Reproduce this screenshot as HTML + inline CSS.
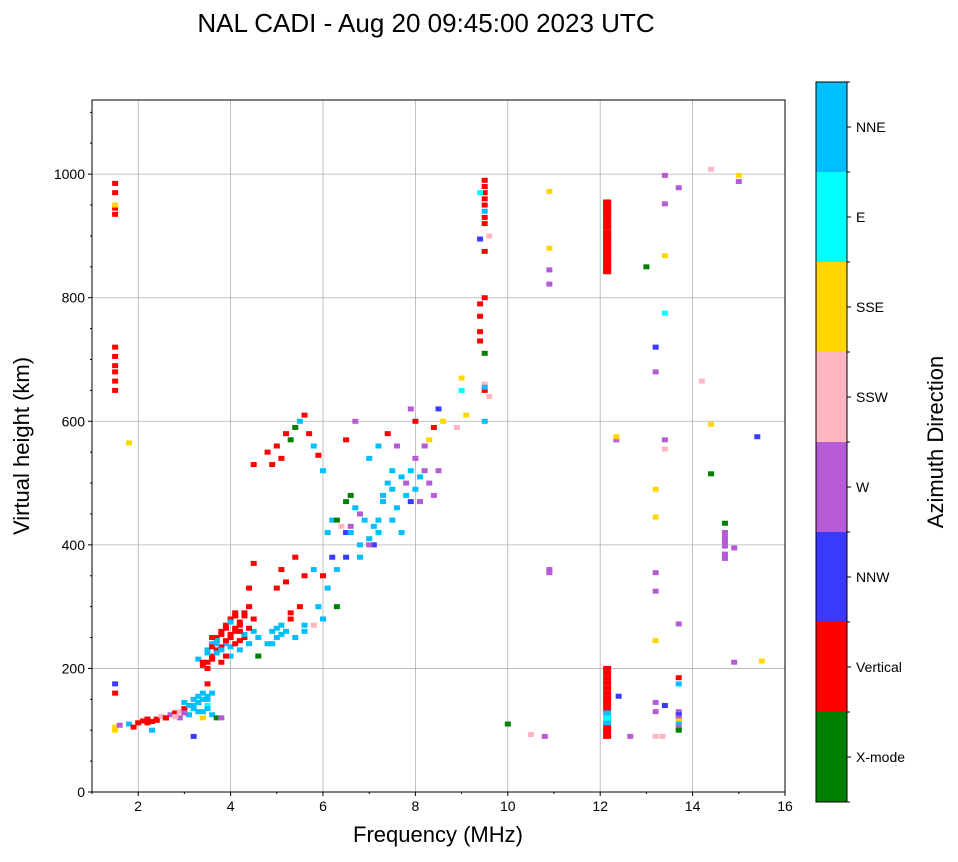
<!DOCTYPE html>
<html><head><meta charset="utf-8">
<style>
body{margin:0;background:#fff;font-family:"Liberation Sans",sans-serif;}
svg text{font-family:"Liberation Sans",sans-serif;}
</style></head>
<body>
<svg id="chart" width="958" height="857" xmlns="http://www.w3.org/2000/svg">
<rect width="958" height="857" fill="#fff"/>
<text x="426" y="32" font-size="26" text-anchor="middle">NAL CADI - Aug 20 09:45:00 2023 UTC</text>
<g id="grid"></g>
<g id="marks"></g>
<g id="axes"></g>
<g id="cbar"></g>
</svg>
<script>
const xTicks=[2,4,6,8,10,12,14,16];
const yTicks=[0,200,400,600,800,1000];
const dirNames=["X-mode","Vertical","NNW","W","SSW","SSE","E","NNE"];
const dirColors=["#008000","#ff0000","#3a3aff","#b75ad5","#ffb6c1","#ffd700","#00ffff","#00bfff"];
// 0 X,1 V,2 NNW,3 W,4 SSW,5 SSE,6 E,7 NNE
const freqs=[1.5,1.5,1.6,1.8,1.9,2.0,2.1,2.2,2.3,2.3,2.4,2.5,2.6,2.7,2.8,2.9,2.9,3.0,3.0,3.1,3.2,3.3,3.4,3.5,3.3,3.5,3.4,3.6,3.7,3.8,3.2,3.5,
3.3,3.4,3.5,3.5,3.6,3.6,3.7,3.7,3.8,3.8,3.9,3.9,4.0,4.0,4.0,4.1,4.1,4.2,4.2,4.3,4.3,4.4,4.4,4.5,4.5,4.6,4.6,4.4,4.5,4.8,4.9,5.0,5.1,5.2,5.4,5.6,6.0,5.8,5.3,5.5,5.0,5.1,5.2,5.4,5.6,5.8,6.0,
4.8,4.9,5.0,5.1,5.2,5.3,5.4,5.5,5.6,5.7,5.8,5.9,6.0,4.5,
6.1,6.2,6.3,6.4,6.5,6.6,6.5,6.6,6.7,6.8,6.9,7.0,7.1,7.2,7.3,7.4,7.5,7.6,7.7,7.8,7.9,7.9,8.0,8.0,8.1,8.2,8.3,8.4,8.5,8.2,8.3,8.4,8.5,8.0,7.9,8.6,6.5,6.8,7.0,7.2,7.5,7.0,7.2,7.4,7.6,6.5,6.7,6.2,6.3,
1.5,1.5,1.5,1.5,1.5,1.5,1.5,1.5,1.5,1.5,1.5,1.5,1.5,1.8,
9.5,9.5,9.5,9.5,9.5,9.5,9.5,9.5,9.5,9.4,9.4,9.4,9.4,9.5,9.5,9.5,9.5,9.4,9.6,9.6,9.5,9.0,9.0,9.1,8.9,9.4,9.5,
10.9,10.9,10.9,10.9,10.9,10.9,10.5,10.8,10.0,
12.15,12.15,12.15,12.15,12.15,12.15,12.15,12.15,12.15,12.15,12.15,12.15,12.15,12.15,12.15,12.15,
12.15,12.15,12.15,12.15,12.15,12.15,12.15,12.15,12.15,12.15,12.15,12.15,12.15,12.15,12.15,12.4,12.35,12.35,12.65,13.0,
13.2,13.2,13.2,13.2,13.2,13.2,13.2,13.2,13.2,13.2,13.4,13.4,13.4,13.4,13.4,13.4,13.4,13.35,
13.7,13.7,13.7,13.7,13.7,13.7,13.7,13.7,13.7,13.7,13.7,14.2,14.4,14.4,14.4,
14.7,14.7,14.7,14.7,14.7,14.7,14.7,14.9,14.9,15.0,15.0,15.4,15.5,
3.4,3.5,3.6,3.7,3.8,3.9,4.0,4.1,4.2,4.3,3.5,3.6,3.7,3.8,3.9,4.0,4.1,4.2,4.3,4.4,3.6,3.7,3.8,3.9,4.0,4.1,4.2,3.1,3.2,3.3,3.4,3.5,3.6,3.2,3.3,3.4,3.5,2.2,2.4,2.6,2.8,3.0,
12.15,12.15,12.15,12.15,12.15,12.15,12.15,12.15,12.15,12.15,12.15,12.15,12.15,12.15,12.15,
4.9,5.0,5.1,5.3,5.6,5.9,6.1,6.3,6.6,6.8,7.1,7.3,7.5,7.7,7.8,8.1,8.2];
const heights=[100,105,108,110,105,112,115,118,114,100,118,122,120,125,128,130,120,135,145,140,150,155,160,150,130,140,120,125,120,120,90,175,
215,210,200,230,220,240,230,250,210,260,240,270,220,250,280,260,290,230,270,250,290,240,300,260,280,250,220,330,370,240,260,250,270,260,250,260,280,270,280,300,330,360,340,380,350,360,350,
550,530,560,540,580,570,590,600,610,580,560,545,520,530,
420,440,440,430,420,430,470,480,460,450,440,410,400,420,480,500,520,460,420,500,470,520,490,540,510,520,500,480,520,560,570,590,620,600,620,600,380,380,400,440,440,540,560,580,560,570,600,380,360,
175,160,650,665,680,690,705,720,935,945,950,970,985,565,
990,980,970,960,950,940,920,875,800,790,770,745,730,710,660,650,600,895,900,640,655,670,650,610,590,970,930,
972,880,845,822,360,355,93,90,110,
845,855,865,875,885,895,905,915,925,935,945,955,870,890,860,900,
90,98,105,112,120,128,136,144,152,160,168,176,184,192,200,155,570,575,90,850,
680,720,490,445,355,325,245,145,130,90,952,998,868,775,570,555,140,90,
185,175,130,125,120,115,110,105,100,272,978,665,1008,595,515,
435,420,412,405,398,385,378,210,395,998,988,575,212,
205,210,215,225,235,245,255,265,275,285,225,235,245,255,265,275,285,245,255,265,250,240,230,220,235,240,260,125,135,145,150,155,160,140,145,130,135,112,116,120,122,128,
850,858,866,874,882,890,898,906,914,922,930,938,946,954,842,
240,265,255,290,270,300,330,300,420,400,430,470,490,510,480,470,560];
const dirs=[5,5,3,7,1,1,1,1,1,7,1,4,1,3,1,4,3,1,7,7,7,7,7,7,7,6,5,7,0,3,2,1,
7,1,1,7,1,7,1,1,1,1,7,1,7,1,1,1,1,7,1,1,1,7,1,7,1,7,0,1,1,7,7,7,7,7,7,7,7,4,1,1,1,1,1,1,1,7,1,
1,1,1,1,1,0,0,7,1,1,7,1,7,1,
7,7,0,4,2,3,0,0,7,3,7,7,2,7,7,7,7,7,7,3,2,7,7,3,7,3,3,3,3,3,5,1,2,1,3,5,2,7,3,7,7,7,7,1,3,1,3,2,7,
2,1,1,1,1,1,1,1,1,1,5,1,1,5,
1,1,1,1,1,7,1,1,1,1,1,1,1,0,4,1,7,2,4,4,7,5,6,5,4,6,1,
5,5,3,3,3,3,4,3,0,
1,1,1,1,1,1,1,1,1,1,1,1,7,7,7,1,
1,1,1,7,6,7,1,1,1,1,1,1,1,1,1,2,3,5,3,0,
3,2,5,5,3,3,5,3,3,4,3,3,5,6,3,4,2,4,
1,7,3,2,3,5,7,3,0,3,3,4,4,5,0,
0,3,3,3,3,3,3,3,3,5,3,2,5,
1,1,1,7,1,1,1,1,1,1,7,1,7,1,1,7,1,1,7,1,1,7,7,1,7,1,1,7,7,7,7,7,7,7,7,7,7,1,1,1,4,3,
1,1,1,1,1,1,1,1,1,1,1,1,1,1,1,
7,7,7,1,7,7,7,0,7,7,7,7,7,7,7,3,3];

const X0=92,X1=785,Y0=792,Y1=100,FMIN=1,FMAX=16,HMAX=1120;
const xs=f=>X0+(f-FMIN)/(FMAX-FMIN)*(X1-X0);
const ys=h=>Y0-h/HMAX*(Y0-Y1);
const NS="http://www.w3.org/2000/svg";
function mk(t,a,p){const e=document.createElementNS(NS,t);for(const k in a)e.setAttribute(k,a[k]);p.appendChild(e);return e;}
const grid=document.getElementById('grid'),marks=document.getElementById('marks'),axes=document.getElementById('axes'),cbar=document.getElementById('cbar');
xTicks.forEach(v=>{if(v<FMAX){const l=mk('line',{x1:xs(v),x2:xs(v),y1:Y1,y2:Y0,stroke:'#b0b0b0','stroke-width':0.8},grid);

}});
yTicks.forEach(v=>{if(v>0){const l=mk('line',{x1:X0,x2:X1,y1:ys(v),y2:ys(v),stroke:'#b0b0b0','stroke-width':0.8},grid);

}});
const n=Math.min(freqs.length,heights.length,dirs.length);
for(let i=0;i<n;i++){
 const w=freqs[i]===12.15?8:6;
 const r=mk('rect',{x:xs(freqs[i])-w/2,y:ys(heights[i])-2.5,width:w,height:5,fill:dirColors[dirs[i]]},marks);
 
 
}
const fr=mk('rect',{x:X0,y:Y1,width:X1-X0,height:Y0-Y1,fill:'none',stroke:'#000','stroke-width':1},axes);


xTicks.forEach(v=>{mk('line',{x1:xs(v),x2:xs(v),y1:Y0,y2:Y0+4,stroke:'#000'},axes);
 const t=mk('text',{x:xs(v),y:Y0+19,'font-size':14,'text-anchor':'middle'},axes);t.textContent=v;
 
 });
yTicks.forEach(v=>{mk('line',{x1:X0-4,x2:X0,y1:ys(v),y2:ys(v),stroke:'#000'},axes);
 const t=mk('text',{x:X0-7,y:ys(v)+5,'font-size':14,'text-anchor':'end'},axes);t.textContent=v;
 
 });
for(let h=50;h<HMAX;h+=50){if(h%200)mk('line',{x1:X0-2,x2:X0,y1:ys(h),y2:ys(h),stroke:'#000'},axes);}
for(let f=1;f<16;f+=1){if(f%2)mk('line',{x1:xs(f),x2:xs(f),y1:Y0,y2:Y0+2,stroke:'#000'},axes);}
let t=mk('text',{x:438,y:842,'font-size':22,'text-anchor':'middle'},axes);t.textContent='Frequency (MHz)';


t=mk('text',{x:29,y:446,'font-size':22,'text-anchor':'middle',transform:'rotate(-90 29 446)'},axes);t.textContent='Virtual height (km)';


const CB0=82,CB1=802,CX=816,CW=31,bh=(CB1-CB0)/dirNames.length;
dirNames.forEach((nm,i)=>{const y=CB1-(i+1)*bh;
 const r=mk('rect',{x:CX,y:y,width:CW,height:bh,fill:dirColors[i]},cbar);
 
 
 mk('line',{x1:CX+CW,x2:CX+CW+4,y1:y+bh/2,y2:y+bh/2,stroke:'#000'},cbar);
 const l=mk('text',{x:CX+CW+9,y:y+bh/2+5,'font-size':14},cbar);l.textContent=nm;
 
 });
for(let i=0;i<=dirNames.length;i++)mk('line',{x1:CX+CW,x2:CX+CW+3,y1:CB0+i*bh,y2:CB0+i*bh,stroke:'#000'},cbar);
mk('rect',{x:CX,y:CB0,width:CW,height:CB1-CB0,fill:'none',stroke:'#000'},cbar);
t=mk('text',{x:943,y:442,'font-size':22,'text-anchor':'middle',transform:'rotate(-90 943 442)'},cbar);t.textContent='Azimuth Direction';


</script>
</body></html>
